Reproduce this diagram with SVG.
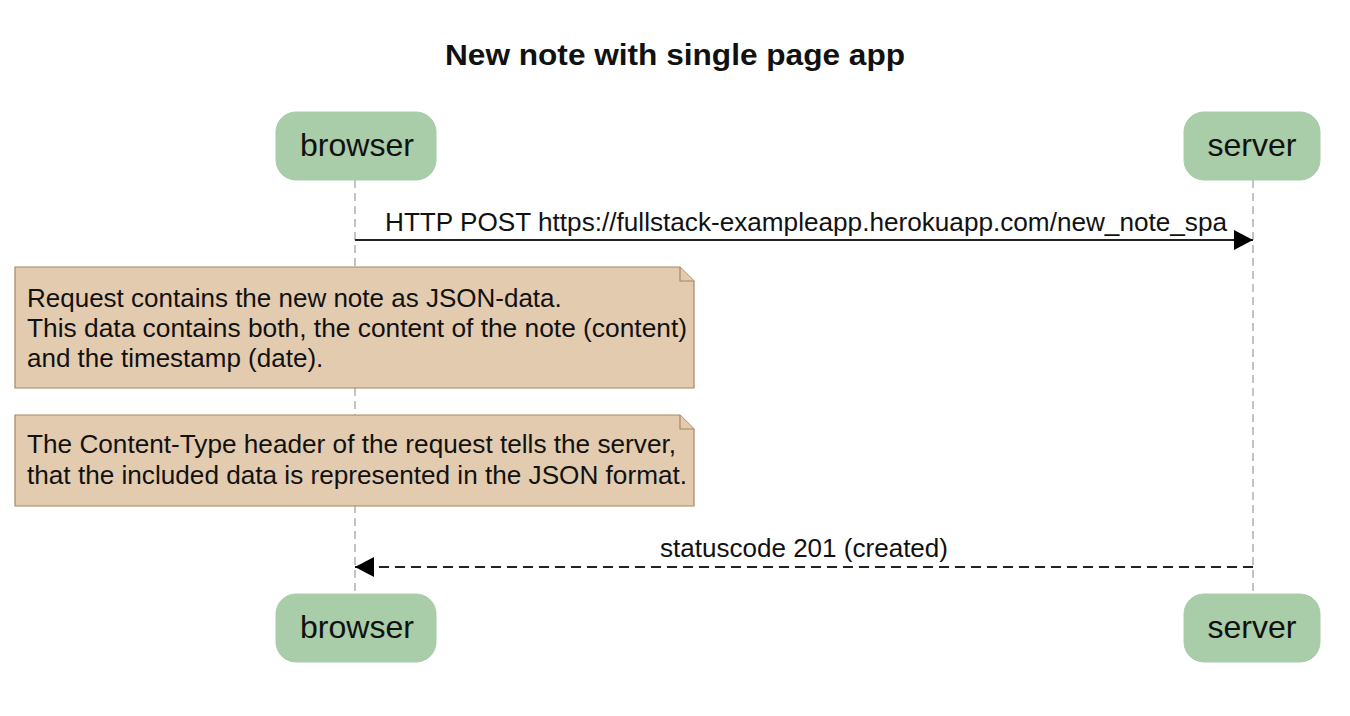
<svg xmlns="http://www.w3.org/2000/svg" width="1350" height="716" viewBox="0 0 1350 716">
<style>
text{font-family:"Liberation Sans",Arial,sans-serif;fill:#111}
.title{font-size:30px;font-weight:bold}
.actor{fill:#a9cca9;stroke:#a9cca9;stroke-width:1}
.actor-t{font-size:32px;text-anchor:middle}
.life{stroke:#b0b0b0;stroke-width:1.5;stroke-dasharray:8,5;fill:none}
.msg{stroke:#222;stroke-width:2;fill:none}
.dash{stroke-dasharray:10,6}
.msg-t{font-size:26px}
.note{fill:#e3cbb0;stroke:#a8875f;stroke-width:1.2}
.note-t{font-size:26px}
</style>
<defs>
<marker id="ah" markerWidth="20" markerHeight="20" refX="19" refY="10" orient="auto" markerUnits="userSpaceOnUse">
<path d="M0,0 L19,10 L0,20 Z" fill="#000"/>
</marker>
</defs>
<rect width="1350" height="716" fill="#fff"/>
<text class="title" x="445" y="65" textLength="460" lengthAdjust="spacingAndGlyphs">New note with single page app</text>
<g id="lifelines">
<line class="life" x1="355" y1="180" x2="355" y2="594"/>
<line class="life" x1="1253" y1="180" x2="1253" y2="594"/>
</g>
<g id="browser-top"><rect class="actor" x="276" y="112" width="160" height="68" rx="20"/><text class="actor-t" x="357" y="156" textLength="114" lengthAdjust="spacingAndGlyphs">browser</text></g>
<g id="server-top"><rect class="actor" x="1184" y="112" width="136" height="68" rx="20"/><text class="actor-t" x="1252" y="156" textLength="89" lengthAdjust="spacingAndGlyphs">server</text></g>
<g id="browser-bottom"><rect class="actor" x="276" y="594" width="160" height="68" rx="20"/><text class="actor-t" x="357" y="638" textLength="114" lengthAdjust="spacingAndGlyphs">browser</text></g>
<g id="server-bottom"><rect class="actor" x="1184" y="594" width="136" height="68" rx="20"/><text class="actor-t" x="1252" y="638" textLength="89" lengthAdjust="spacingAndGlyphs">server</text></g>
<g id="connectors">
<line class="msg" x1="355" y1="240" x2="1253" y2="240" marker-end="url(#ah)"/>
<text class="msg-t" x="385" y="231" textLength="842" lengthAdjust="spacingAndGlyphs">HTTP POST https://fullstack-exampleapp.herokuapp.com/new_note_spa</text>
<line class="msg dash" x1="1253" y1="567" x2="355" y2="567" marker-end="url(#ah)"/>
<text class="msg-t" x="660" y="557" textLength="288" lengthAdjust="spacingAndGlyphs">statuscode 201 (created)</text>
</g>
<g id="note1">
<path class="note" d="M15,267 H680 L694,281 V388 H15 Z"/>
<path class="note" d="M680,267 V281 H694" fill="none"/>
<text class="note-t" x="27" y="307">Request contains the new note as JSON-data.</text>
<text class="note-t" x="27" y="337" textLength="660" lengthAdjust="spacingAndGlyphs">This data contains both, the content of the note (content)</text>
<text class="note-t" x="27" y="367">and the timestamp (date).</text>
</g>
<g id="note2">
<path class="note" d="M15,415 H680 L694,429 V506 H15 Z"/>
<path class="note" d="M680,415 V429 H694" fill="none"/>
<text class="note-t" x="27" y="453" textLength="649" lengthAdjust="spacingAndGlyphs">The Content-Type header of the request tells the server,</text>
<text class="note-t" x="27" y="484" textLength="660" lengthAdjust="spacingAndGlyphs">that the included data is represented in the JSON format.</text>
</g>
</svg>
